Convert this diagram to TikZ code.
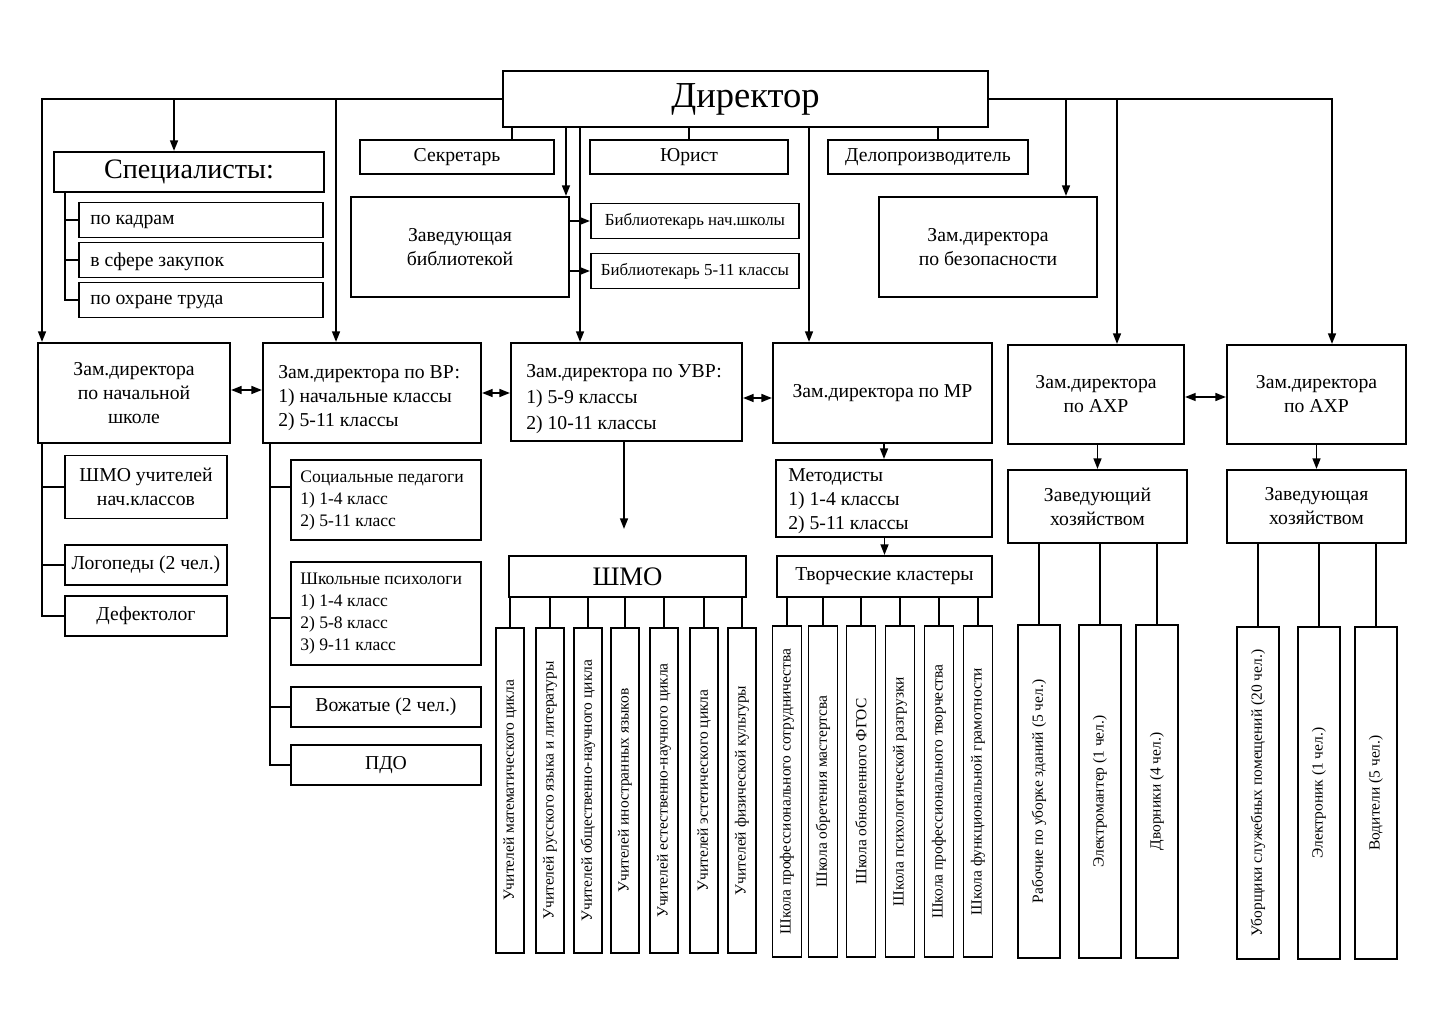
\documentclass[tikz,border=0pt]{standalone}
\usepackage{fontspec}
\setmainfont{Liberation Serif}
\usetikzlibrary{calc}
\usetikzlibrary{arrows.meta}
\tikzset{
  box/.style={draw, line width=1.4pt, inner sep=0pt, align=center, font=\fontsize{14}{17}\selectfont},
  wh/.style 2 args={minimum width=#1*0.025cm, minimum height=#2*0.025cm},
  ltxt/.style={anchor=west, align=left, inner sep=0pt, font=\fontsize{14}{17}\selectfont},
  vbox/.style={box, rotate=90, font=\fontsize{11}{13}\selectfont},
  ln/.style={line width=1.4pt},
  arr/.style={ln, -{Triangle[length=7.5pt,width=5.5pt]}},
  darr/.style={ln, {Triangle[length=7.5pt,width=5.5pt]}-{Triangle[length=7.5pt,width=5.5pt]}},
}

\begin{document}
\begin{tikzpicture}[x=0.025cm, y=-0.025cm]
  \useasboundingbox (0,0) rectangle (1448,1024);

  \node [box, wh={485}{56}, font=\fontsize{26}{30}\selectfont] (dir) at (745.5,99) {Директор};

  % specialists
  \node [box, wh={270}{40}, font=\fontsize{20}{24}\selectfont] (spec) at (189,172) {Специалисты:};
  \node [box, wh={244}{35}] (kadr) at (201,220) {};
  \node [box, wh={244}{35}] (zakup) at (201,260) {};
  \node [box, wh={244}{35}] (ohr) at (201,300) {};
  \node [ltxt] (kadrt) at ($(kadr.west)+(12,2)$) {по кадрам};
  \node [ltxt] (zakupt) at ($(zakup.west)+(12,2)$) {в сфере закупок};
  \node [ltxt] (ohrt) at ($(ohr.west)+(12,2)$) {по охране труда};

  \node [box, wh={194}{34}] (sekr) at (457,157) {Секретарь};
  \node [box, wh={198}{34}] (yur) at (689,157) {Юрист};
  \node [box, wh={200}{34}] (delo) at (928,157) {Делопроизводитель};
  \node [box, wh={218}{100}] (zavbib) at (460,247) {Заведующая\\библиотекой};
  \node [box, wh={208}{35}, font=\fontsize{12}{14}\selectfont] (bib1) at (695,221) {Библиотекарь нач.школы};
  \node [box, wh={208}{35}, font=\fontsize{12}{14}\selectfont] (bib2) at (695,271) {Библиотекарь 5-11 классы};
  \node [box, wh={218}{100}] (zambez) at (988,247) {Зам.директора\\по безопасности};

  % deputies
  \node [box, wh={192}{100}] (zamnach) at (134,393) {Зам.директора\\по начальной\\школе};
  \node [box, wh={218}{100}] (zamvr) at (372,393) {};
  \node [ltxt] (zamvrt) at ($(zamvr.west)+(16,5)$) {Зам.директора по ВР:\\1) начальные классы\\2) 5-11 классы};
  \node [box, wh={231}{98}] (zamuvr) at (626.5,392) {};
  \node [ltxt, font=\fontsize{14}{18.5}\selectfont] (zamuvrt) at ($(zamuvr.west)+(16,7)$) {Зам.директора по УВР:\\1) 5-9 классы\\2) 10-11 классы};
  \node [box, wh={219}{100}] (zammr) at (882.5,393) {Зам.директора по МР};
  \node [box, wh={176}{99}] (axp1) at (1096,394.5) {Зам.директора\\по АХР};
  \node [box, wh={179}{99}] (axp2) at (1316.5,394.5) {Зам.директора\\по АХР};

  \node [box, wh={162}{63}] (shmonach) at (146,487) {ШМО учителей\\нач.классов};
  \node [box, wh={162}{40}] (logo) at (146,565) {Логопеды (2 чел.)};
  \node [box, wh={162}{40}] (defekt) at (146,616) {Дефектолог};

  \node [box, wh={190}{80}] (socped) at (386,500) {};
  \node [ltxt, font=\fontsize{12.5}{15.8}\selectfont] (socpedt) at ($(socped.west)+(10,0.5)$) {Социальные педагоги\\1) 1-4 класс\\2) 5-11 класс};
  \node [box, wh={190}{103}] (psych) at (386,613.5) {};
  \node [ltxt, font=\fontsize{12.5}{15.8}\selectfont] (psycht) at ($(psych.west)+(10,0)$) {Школьные психологи\\1) 1-4 класс\\2) 5-8 класс\\3) 9-11 класс};
  \node [box, wh={190}{40}] (vozh) at (386,707) {Вожатые (2 чел.)};
  \node [box, wh={190}{40}] (pdo) at (386,765) {ПДО};

  \node [box, wh={237}{41}, font=\fontsize{19}{22}\selectfont] (shmo) at (627.5,576.5) {ШМО};
  \node [box, wh={216}{77}] (metod) at (884,498.5) {};
  \node [ltxt] (metodt) at ($(metod.west)+(13,3)$) {Методисты\\1) 1-4 классы\\2) 5-11 классы};
  \node [box, wh={215}{41}] (klast) at (884.5,576.5) {Творческие кластеры};
  \node [box, wh={179}{73}] (zavh1) at (1097.5,506.5) {Заведующий\\хозяйством};
  \node [box, wh={179}{73}] (zavh2) at (1316.5,506.5) {Заведующая\\хозяйством};

  % vertical boxes
  \foreach \n/\x/\t in {u1/510/Учителей математического цикла, u2/550/Учителей русского языка и литературы,
      u3/588/Учителей общественно-научного цикла, u4/625/Учителей иностранных языков,
      u5/664/Учителей естественно-научного цикла, u6/704/Учителей эстетического цикла,
      u7/742/Учителей физической культуры} {
    \node [vbox, wh={325}{28}] (\n) at (\x,790.5) {\t};
    \draw [ln] (shmo.south -| \n.east) -- (\n.east);
  }
  \foreach \n/\x/\t in {k1/787/Школа профессионального сотрудничества, k2/823/Школа обретения мастертсва,
      k3/861/Школа обновленного ФГОС, k4/900/Школа психологической разгрузки,
      k5/939/Школа профессионального творчества, k6/978/Школа функциональной грамотности} {
    \node [vbox, wh={331}{29}] (\n) at (\x,791.5) {\t};
    \draw [ln] (klast.south -| \n.east) -- (\n.east);
  }
  \foreach \n/\x/\t in {h1/1039/Рабочие по уборке зданий (5 чел.), h2/1100/Электромантер (1 чел.),
      h3/1157/Дворники (4 чел.)} {
    \node [vbox, wh={333}{42}] (\n) at (\x,791.5) {\t};
    \draw [ln] (zavh1.south -| \n.east) -- (\n.east);
  }
  \foreach \n/\x/\t in {g1/1258/Уборщики служебных помещений (20 чел.), g2/1319/Электроник (1 чел.),
      g3/1376/Водители (5 чел.)} {
    \node [vbox, wh={332}{42}] (\n) at (\x,793) {\t};
    \draw [ln] (zavh2.south -| \n.east) -- (\n.east);
  }

  % director links
  \coordinate (tnach) at ($(zamnach.north west)+(5,0)$);
  \coordinate (tspec) at ($(spec.north west)+(121,0)$);
  \coordinate (tvr) at ($(zamvr.north west)+(74,0)$);
  \coordinate (tbez) at ($(zambez.north)+(78,0)$);
  \coordinate (taxp1) at ($(axp1.north)+(21,0)$);
  \coordinate (taxp2) at ($(axp2.north)+(15.5,0)$);
  \draw [arr] (dir.west) -| (tnach);
  \draw [arr] (tspec |- dir.west) -- (tspec);
  \draw [arr] (tvr |- dir.west) -- (tvr);
  \draw [arr] (dir.east) -| (taxp2);
  \draw [arr] (tbez |- dir.east) -- (tbez);
  \draw [arr] (taxp1 |- dir.east) -- (taxp1);

  \coordinate (tsekr) at ($(sekr.north)+(55,0)$);
  \coordinate (tbib) at ($(zavbib.north east)+(-4,0)$);
  \coordinate (tuvr) at ($(zamuvr.north west)+(70,0)$);
  \coordinate (tmr) at ($(zammr.north west)+(37,0)$);
  \coordinate (tdelo) at ($(delo.north)+(10,0)$);
  \draw [ln] (dir.south -| tsekr) -- (tsekr);
  \draw [arr] (dir.south -| tbib) -- (tbib);
  \draw [arr] (dir.south -| tuvr) -- (tuvr);
  \draw [ln] (dir.south -| yur.north) -- (yur.north);
  \draw [arr] (dir.south -| tmr) -- (tmr);
  \draw [ln] (dir.south -| tdelo) -- (tdelo);

  \draw [arr] (zavbib.east |- bib1.west) -- (bib1.west);
  \draw [arr] (zavbib.east |- bib2.west) -- (bib2.west);

  % brackets
  \coordinate (sl) at ($(spec.south west)+(12,0)$);
  \draw [ln] (sl) |- (ohr.west);
  \draw [ln] (sl |- kadr.west) -- (kadr.west);
  \draw [ln] (sl |- zakup.west) -- (zakup.west);

  \coordinate (nl) at ($(zamnach.south west)+(5,0)$);
  \draw [ln] (nl) |- (defekt.west);
  \draw [ln] (nl |- shmonach.west) -- (shmonach.west);
  \draw [ln] (nl |- logo.west) -- (logo.west);

  \coordinate (vl) at ($(zamvr.south west)+(8,0)$);
  \draw [ln] (vl) |- (pdo.west);
  \draw [ln] (vl |- socped.west) ++(0,-13) -- ($(socped.west)+(0,-13)$);
  \draw [ln] (vl |- psych.west) ++(0,4.5) -- ($(psych.west)+(0,4.5)$);
  \draw [ln] (vl |- vozh.west) -- (vozh.west);

  % horizontal links
  \draw [darr] ($(zamnach.east)+(0,-3)$) -- ($(zamvr.west)+(0,-3)$);
  \draw [darr] (zamvr.east) -- (zamvr.east -| zamuvr.west);
  \draw [darr] ($(zamuvr.east)+(0,6)$) -- ($(zamuvr.east -| zammr.west)+(0,6)$);
  \draw [darr] ($(axp1.east)+(0,2.5)$) -- ($(axp2.west)+(0,2.5)$);

  \coordinate (tshmo) at ($(shmo.north)+(-3.5,-26)$);
  \draw [arr] (zamuvr.south -| tshmo) -- (tshmo);
  \draw [arr] (zammr.south -| metod.north) -- (metod.north);
  \draw [arr] (metod.south -| klast.north) -- (klast.north);
  \draw [arr] (axp1.south -| zavh1.north) -- (zavh1.north);
  \draw [arr] (axp2.south) -- (axp2.south |- zavh2.north);
\end{tikzpicture}
\end{document}
